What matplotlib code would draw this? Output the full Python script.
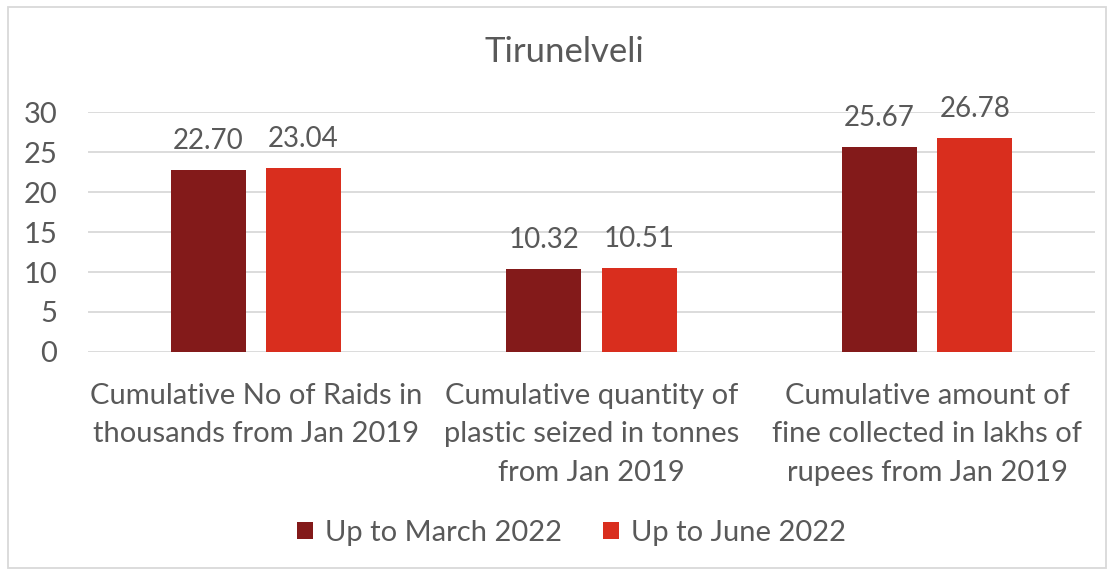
import numpy as np
import matplotlib
matplotlib.use("Agg")
import matplotlib.pyplot as plt
from matplotlib.patches import Rectangle

plt.rcParams["font.family"] = ["Lato", "DejaVu Sans"]

categories = [
    "Cumulative No of Raids in\nthousands from Jan 2019",
    "Cumulative quantity of\nplastic seized in tonnes\nfrom Jan 2019",
    "Cumulative amount of\nfine collected in lakhs of\nrupees from Jan 2019",
]
series_names = ["Up to March 2022", "Up to June 2022"]
march_vals = [22.70, 10.32, 25.67]
june_vals = [23.04, 10.51, 26.78]
colors = ["#831A1A", "#D92E1E"]
yticks = [0, 5, 10, 15, 20, 25, 30]

txt = "#595959"
fig = plt.figure(figsize=(11.14, 5.73), dpi=100)
ax = fig.add_axes([0.079, 0.3857, 0.904, 0.4188])

x = np.arange(len(categories))
w = 0.224
gap = 0.06
for i, (vals, name) in enumerate(zip([march_vals, june_vals], series_names)):
    off = (-1 if i == 0 else 1) * (w + gap) / 2
    bars = ax.bar(x + off, vals, width=w, color=colors[i], label=name, zorder=3)
    for b, v in zip(bars, vals):
        ax.text(b.get_x() + b.get_width() / 2, v + 2.0, f"{v:.2f}",
                ha="center", va="bottom", fontsize=20, color=txt)

ax.set_xlim(-0.5, 2.5)
ax.set_ylim(0, 30)
ax.set_yticks(yticks)
ax.set_xticks(x)
ax.set_xticklabels(categories, fontsize=21, color=txt, linespacing=1.6)
ax.tick_params(axis="y", labelsize=21, labelcolor=txt, length=0, pad=22)
ax.tick_params(axis="x", length=0, pad=22)
ax.grid(axis="y", color="#D9D9D9", linewidth=1.3, zorder=0)
for s in ax.spines.values():
    s.set_visible(False)

fig.text(0.507, 0.909, "Tirunelveli", ha="center", va="center", fontsize=25, color=txt)

fig.legend(loc="center", bbox_to_anchor=(0.513, 0.07), ncol=2, frameon=False,
           fontsize=21, labelcolor=txt, handlelength=0.55, handleheight=0.55,
           handletextpad=0.4, columnspacing=1.4)

fig.patches.append(Rectangle((0.007, 0.008), 0.986, 0.98, transform=fig.transFigure,
                             fill=False, edgecolor="#D9D9D9", linewidth=1.3))

fig.savefig("out.png", dpi=100)
